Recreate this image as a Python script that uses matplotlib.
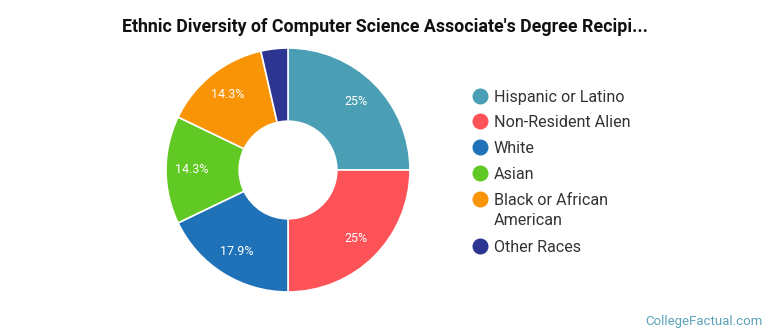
import matplotlib
matplotlib.use("Agg")
from matplotlib import pyplot as plt
from matplotlib.lines import Line2D

plt.rcParams['font.family'] = ['Roboto', 'DejaVu Sans']

labels = ["Hispanic or Latino", "Non-Resident Alien", "White", "Asian",
          "Black or African\nAmerican", "Other Races"]
counts = [7, 7, 5, 4, 4, 1]
colors = ["#4a9fb5", "#fd5257", "#1f72b8", "#61c923", "#f99406", "#2c3592"]


def fmt_pct(p):
    if p < 5:
        return ""
    s = "%.1f" % p
    if s.endswith(".0"):
        s = s[:-2]
    return s + "%"


def main():
    fig = plt.figure(figsize=(7.7, 3.35), dpi=100)
    W, H = 770, 335
    cx, cy, r = 288, 170, 122
    ax = fig.add_axes([(cx - r) / W, (H - cy - r) / H, 2 * r / W, 2 * r / H])

    wedges, texts, autotexts = ax.pie(
        counts, colors=colors, startangle=90, counterclock=False,
        autopct=fmt_pct, pctdistance=0.79, radius=1.0,
        wedgeprops=dict(width=0.6, edgecolor="white", linewidth=1.2),
        textprops=dict(color="white", fontsize=9))
    ax.set_xlim(-1, 1)
    ax.set_ylim(-1, 1)
    ax.set_aspect('equal')

    fig.text(385 / W, 1 - 27 / H,
             "Ethnic Diversity of Computer Science Associate's Degree Recipi...",
             ha='center', va='center', fontsize=12.8, fontweight='bold', color="#111111")

    # legend drawn by hand so the two-line entry sits like the rest
    rows = [96, 121, 147, 173, 199, 246]
    for lab, col, y in zip(labels, colors, rows):
        fig.add_artist(Line2D([480 / W], [1 - y / H], marker='o', markersize=10.5,
                              color=col, linestyle='none', transform=fig.transFigure))
        fig.text(494 / W, 1 - (y - 6) / H, lab, ha='left', va='top',
                 fontsize=11.6, color="#333333", linespacing=1.45)

    fig.text(763 / W, 1 - 321 / H, "CollegeFactual.com", ha='right', va='center',
             fontsize=9.5, color="#5ba3b8")

    plt.savefig("out.png", format="PNG", dpi=100)


if __name__ == "__main__":
    main()
